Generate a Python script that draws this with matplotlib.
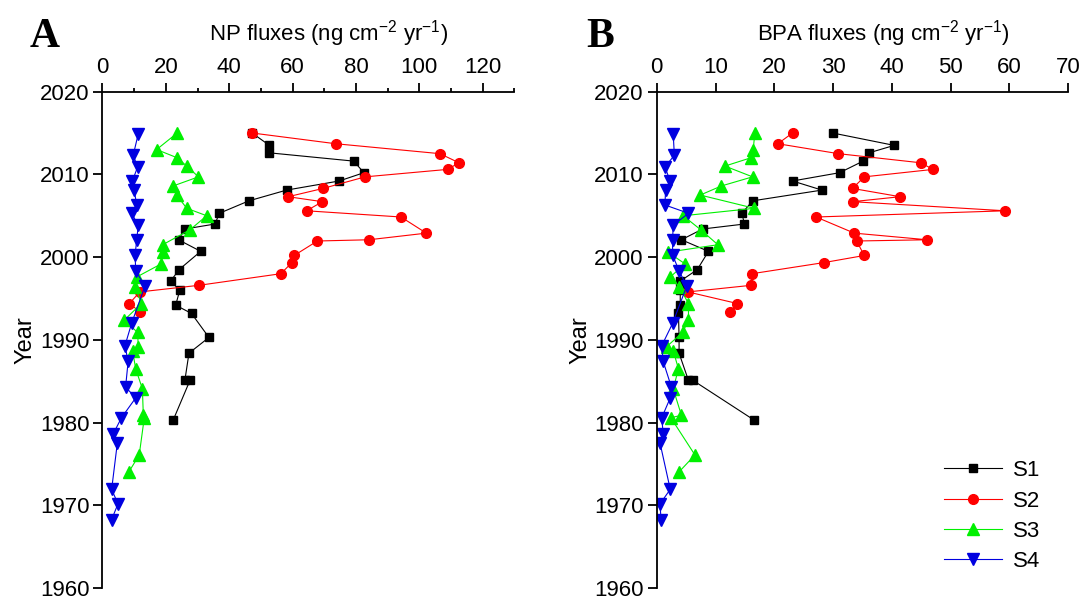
import numpy as np
import matplotlib.pyplot as plt
from matplotlib.ticker import MultipleLocator

plt.rcParams['font.family'] = ['Liberation Sans', 'DejaVu Sans']
plt.rcParams['font.size'] = 16
plt.rcParams['mathtext.fontset'] = 'custom'
plt.rcParams['mathtext.rm'] = 'Liberation Sans'
plt.rcParams['mathtext.it'] = 'Liberation Sans:italic'
plt.rcParams['mathtext.bf'] = 'Liberation Sans:bold'

# sampling years of each core
s1_year = [2015.0, 2013.5, 2012.6, 2011.6, 2010.2, 2009.2, 2008.1, 2006.8, 2005.3, 2004.0, 2003.4, 2002.1,
           2000.7, 1998.5, 1997.1, 1996.0, 1994.2, 1993.2, 1990.3, 1988.4, 1985.1, 1985.1, 1980.3]
s2_year = [2015.0, 2013.7, 2012.5, 2011.4, 2010.6, 2009.7, 2008.3, 2007.3, 2006.7, 2005.6, 2004.85,
           2002.9, 2002.1, 2001.95, 2000.2, 1999.35, 1998.0, 1996.6, 1995.8, 1994.4, 1993.4]
s3_year = [2015.0, 2013.0, 2012.0, 2011.0, 2009.7, 2008.6, 2007.5, 2005.9, 2005.0, 2003.3, 2001.5, 2000.6,
           1999.2, 1997.6, 1996.4, 1994.4, 1992.4, 1990.9, 1989.2, 1988.7, 1986.5, 1984.1, 1980.9, 1980.6,
           1976.1, 1974.1]
s4_year = [2014.9, 2012.3, 2010.9, 2009.15, 2008.1, 2006.3, 2005.3, 2003.85, 2002.05, 2000.25, 1998.35,
           1996.5, 1992.0, 1989.3, 1987.4, 1984.3, 1983.0, 1980.6, 1978.65, 1977.55, 1971.95, 1970.2, 1968.3]

# NP fluxes (ng cm-2 yr-1)
s1_np = [47.2, 52.7, 52.7, 79.3, 82.5, 74.7, 58.1, 46.2, 36.9, 35.5, 26.0, 24.0, 31.0, 24.2, 21.5, 24.4,
         23.1, 28.1, 33.6, 27.3, 26.0, 27.6, 22.3]
s2_np = [47.2, 73.6, 106.5, 112.5, 108.9, 82.9, 69.6, 58.6, 69.4, 64.4, 94.2, 102.2, 84.1, 67.8, 60.5,
         59.8, 56.3, 30.5, 11.8, 8.5, 11.8]
s3_np = [23.6, 17.1, 23.6, 26.6, 30.3, 22.3, 23.4, 26.6, 32.9, 27.6, 19.0, 19.0, 18.6, 10.8, 10.3, 12.3,
         6.9, 11.1, 11.3, 9.5, 10.5, 12.6, 12.9, 13.2, 11.6, 8.4]
s4_np = [11.3, 9.7, 11.1, 9.4, 10.0, 10.8, 9.2, 11.3, 10.8, 10.3, 10.5, 13.4, 9.2, 7.1, 8.1, 7.3, 10.5,
         6.0, 3.4, 4.7, 2.9, 4.9, 2.9]

# BPA fluxes (ng cm-2 yr-1)
s1_bpa = [29.9, 40.4, 36.1, 35.1, 31.1, 23.1, 28.1, 16.3, 14.5, 14.9, 7.8, 4.2, 8.8, 6.9, 4.0, 4.0, 4.0,
          3.7, 3.8, 3.8, 5.4, 6.2, 16.6]
s2_bpa = [23.1, 20.6, 30.9, 44.9, 47.0, 35.3, 33.3, 41.4, 33.3, 59.3, 27.1, 33.6, 46.0, 34.0, 35.3, 28.5,
          16.2, 16.1, 5.3, 13.7, 12.5]
s3_bpa = [16.7, 16.4, 16.0, 11.6, 16.3, 11.0, 7.4, 16.6, 4.5, 7.5, 10.4, 1.9, 4.8, 2.3, 3.85, 5.4, 5.4,
          4.4, 1.7, 2.8, 3.7, 2.8, 4.2, 2.4, 6.5, 3.85]
s4_bpa = [2.8, 3.0, 1.4, 2.3, 1.5, 1.4, 5.4, 2.8, 2.7, 2.7, 3.8, 5.1, 2.7, 0.85, 1.1, 2.5, 2.3, 0.85, 1.1,
          0.56, 2.3, 0.56, 0.73]

labels = ['S1', 'S2', 'S3', 'S4']
styles = [dict(color='black', marker='s', ms=6),
          dict(color='#ff0000', marker='o', ms=7),
          dict(color='#00f000', marker='^', ms=8),
          dict(color='#0000e0', marker='v', ms=8)]

fig = plt.figure(figsize=(10.83, 5.97), dpi=100)
axA = fig.add_axes([0.0946, 0.0146, 0.3804, 0.832])
axB = fig.add_axes([0.6064, 0.0146, 0.3800, 0.832])


def draw(ax, xs, xmax, major, minor, title):
    years = [s1_year, s2_year, s3_year, s4_year]
    for x, yr, lab, st in zip(xs, years, labels, styles):
        ax.plot(x, yr, lw=0.8, label=lab, **st)
    ax.set_xlim(0, xmax)
    ax.set_ylim(1960, 2020)
    ax.xaxis.tick_top()
    ax.xaxis.set_label_position('top')
    ax.xaxis.set_major_locator(MultipleLocator(major))
    if minor:
        ax.xaxis.set_minor_locator(MultipleLocator(minor))
    ax.yaxis.set_major_locator(MultipleLocator(10))
    for s in ['right', 'bottom']:
        ax.spines[s].set_visible(False)
    for s in ['left', 'top']:
        ax.spines[s].set_linewidth(1.3)
    ax.tick_params(which='major', length=6.5, width=1.3, labelsize=16, pad=3)
    ax.tick_params(which='minor', length=3, width=1.3)
    ax.set_xlabel(title, fontsize=16, labelpad=12, x=0.55)
    ax.set_ylabel('Year', fontsize=17, labelpad=2)
    ax.patch.set_alpha(0)


draw(axA, [s1_np, s2_np, s3_np, s4_np], 130, 20, 10, r'NP fluxes (ng cm$^{-2}$ yr$^{-1}$)')
draw(axB, [s1_bpa, s2_bpa, s3_bpa, s4_bpa], 70, 10, None, r'BPA fluxes (ng cm$^{-2}$ yr$^{-1}$)')

fig.text(0.027, 0.922, 'A', fontsize=30, fontweight='bold', family='Liberation Serif')
fig.text(0.541, 0.922, 'B', fontsize=30, fontweight='bold', family='Liberation Serif')

axB.legend(loc='lower right', bbox_to_anchor=(0.979, 0.008), bbox_transform=fig.transFigure,
           frameon=False, fontsize=16, handlelength=2.6, labelspacing=0.42, handletextpad=0.5)

fig.savefig('out.png', dpi=100)
